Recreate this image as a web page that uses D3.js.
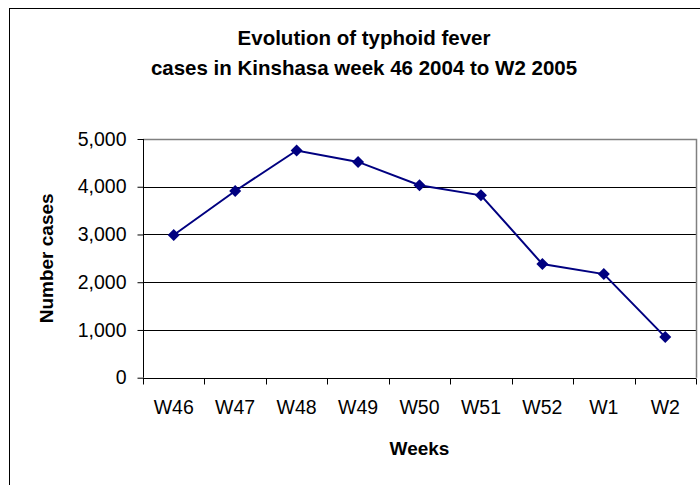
<!DOCTYPE html>
<html lang="en">
<head>
<meta charset="utf-8">
<title>Typhoid fever Kinshasa</title>
<script src="https://cdn.jsdelivr.net/npm/d3@7"></script>
<style>
	body { margin: 0; background: #fff; }
	text { font-family: Arial, "Liberation Sans", sans-serif; fill: #000; }
	.title { font-size: 20.5px; font-weight: bold; }
	.label { font-size: 19px; font-weight: bold; }
	.tick text { font-size: 19.5px; }
</style>
</head>
<body>
<script>

// data
var weeks = ["W46", "W47", "W48", "W49", "W50", "W51", "W52", "W1", "W2"];
var cases = [2990, 3910, 4760, 4520, 4030, 3820, 2380, 2170, 850];
var yTicks = [0, 1000, 2000, 3000, 4000, 5000];

var W = 700, H = 485;
var plot = {left: 143, top: 139, right: 696, bottom: 377.7};

var svg = d3.select("body").append("svg")
	.attr("width", W)
	.attr("height", H);

// outer chart border
svg.append("rect")
	.attr("x", 9.5).attr("y", 8.5)
	.attr("width", W).attr("height", H)
	.attr("fill", "none")
	.attr("stroke", "#000");

var xScale = d3.scaleBand()
	.domain(weeks)
	.range([plot.left, plot.right]);

var yScale = d3.scaleLinear()
	.domain([0, 5000])
	.range([plot.bottom, plot.top]);

// gridlines
svg.append("g")
	.selectAll("line")
	.data(yTicks.slice(1))
	.enter().append("line")
	.attr("x1", plot.left).attr("x2", plot.right)
	.attr("y1", function(d) { return Math.round(yScale(d)) + 0.5; })
	.attr("y2", function(d) { return Math.round(yScale(d)) + 0.5; })
	.attr("stroke", "#000");

// plot area border (top/right gray)
svg.append("path")
	.attr("d", "M" + plot.left + "," + (plot.top + 0.5) + "H" + (plot.right + 0.5) + "V" + plot.bottom)
	.attr("fill", "none")
	.attr("stroke", "#808080")
	.attr("stroke-width", 1.5);

// y axis
var yAxis = d3.axisLeft(yScale)
	.tickValues(yTicks)
	.tickSize(6)
	.tickPadding(11)
	.tickFormat(d3.format(","));

svg.append("g")
	.attr("class", "axis")
	.attr("transform", "translate(" + (plot.left + 0.5) + ",0)")
	.call(yAxis)
	.call(function(g) { g.select(".domain").attr("d", "M0," + plot.top + "V" + plot.bottom); });

// x axis: ticks at category boundaries
var xAxis = d3.axisBottom(xScale)
	.tickSize(0)
	.tickPadding(22);

var gx = svg.append("g")
	.attr("class", "axis")
	.attr("transform", "translate(0," + (Math.round(plot.bottom) + 0.5) + ")")
	.call(xAxis);
gx.select(".domain").attr("d", "M" + plot.left + ",0H" + plot.right);

gx.selectAll(".sep")
	.data(weeks.concat(["end"]))
	.enter().append("line")
	.attr("class", "sep")
	.attr("x1", function(d, i) { return Math.round(plot.left + i * xScale.step()) + 0.5; })
	.attr("x2", function(d, i) { return Math.round(plot.left + i * xScale.step()) + 0.5; })
	.attr("y1", 0).attr("y2", 6)
	.attr("stroke", "#000");

// line
var line = d3.line()
	.x(function(d, i) { return xScale(weeks[i]) + xScale.bandwidth() / 2; })
	.y(function(d) { return yScale(d); });

svg.append("path")
	.datum(cases)
	.attr("d", line)
	.attr("fill", "none")
	.attr("stroke", "#000080")
	.attr("stroke-width", 2);

// diamond markers
var r = 6;
svg.selectAll(".marker")
	.data(cases)
	.enter().append("path")
	.attr("class", "marker")
	.attr("transform", function(d, i) {
		return "translate(" + (xScale(weeks[i]) + xScale.bandwidth() / 2) + "," + yScale(d) + ")";
	})
	.attr("d", "M0," + (-r) + "L" + r + ",0L0," + r + "L" + (-r) + ",0Z")
	.attr("fill", "#000080");

// title
svg.append("text")
	.attr("class", "title")
	.attr("x", 364).attr("y", 45)
	.attr("text-anchor", "middle")
	.text("Evolution of typhoid fever");

svg.append("text")
	.attr("class", "title")
	.attr("x", 364).attr("y", 74.5)
	.attr("text-anchor", "middle")
	.text("cases in Kinshasa week 46 2004 to W2 2005");

// axis labels
svg.append("text")
	.attr("class", "label")
	.attr("x", (plot.left + plot.right) / 2)
	.attr("y", 455)
	.attr("text-anchor", "middle")
	.text("Weeks");

svg.append("text")
	.attr("class", "label")
	.attr("transform", "translate(53," + ((plot.top + plot.bottom) / 2) + ") rotate(-90)")
	.attr("text-anchor", "middle")
	.text("Number cases");

</script>
</body>
</html>
